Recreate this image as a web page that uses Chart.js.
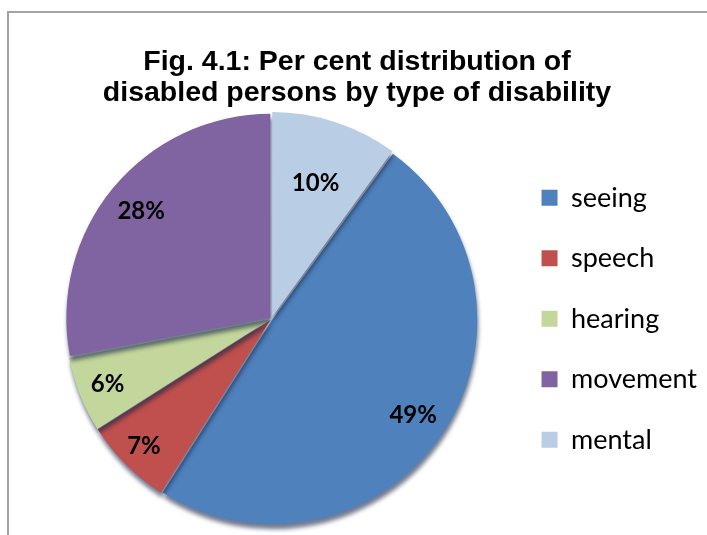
<!DOCTYPE html>
<html>
<head>
<meta charset="utf-8">
<script src="https://cdn.jsdelivr.net/npm/chart.js@4.4.1/dist/chart.umd.min.js"></script>
<style>
  html, body { margin: 0; padding: 0; background: #fff; overflow: hidden; }
  #frame { position: absolute; left: 7px; top: 11px; width: 800px; height: 600px;
           border: 2px solid #a3a3a3; }
  #wrap { position: absolute; left: 0; top: 0; width: 707px; height: 535px; }
</style>
</head>
<body>
<div id="frame"></div>
<div id="wrap"><canvas id="PieChart" width="707" height="535"></canvas></div>
<script>
// data
var types = ['seeing', 'speech', 'hearing', 'movement', 'mental'];
var shares = [49, 7, 6, 28, 10];
var colours = ['#4f81bd', '#c0504d', '#c3d69b', '#8064a2', '#b9cde5'];
var explode = [4, 5, 5, 6, 8];
var labelRadius = [0.82, 0.86, 0.84, 0.8, 0.66];

var ctx = document.getElementById('PieChart');

// pie sits a bit right of the plot area middle in the original
var nudgePlugin = {
    id: 'nudgePie',
    afterLayout: function (chart) {
        chart.chartArea.left += 28;
        chart.chartArea.width -= 28;
    }
};

// soft shadow under the slices
var shadowPlugin = {
    id: 'sliceShadow',
    beforeDatasetsDraw: function (chart) {
        var c = chart.ctx;
        c.save();
        c.shadowColor = 'rgba(20,35,70,0.6)';
        c.shadowBlur = 4;
        c.shadowOffsetX = 1;
        c.shadowOffsetY = 5;
    },
    afterDatasetsDraw: function (chart) {
        chart.ctx.restore();
    }
};

// percent labels inside each slice
var pctPlugin = {
    id: 'pctLabels',
    afterDatasetsDraw: function (chart) {
        var c = chart.ctx;
        var meta = chart.getDatasetMeta(0);
        c.save();
        c.font = 'bold 24px Lato';
        c.fillStyle = '#000';
        c.textAlign = 'center';
        c.textBaseline = 'middle';
        meta.data.forEach(function (arc, i) {
            var mid = (arc.startAngle + arc.endAngle) / 2;
            var d = arc.outerRadius * labelRadius[i] + explode[i];
            c.fillText(shares[i] + '%', arc.x + Math.cos(mid) * d, arc.y + Math.sin(mid) * d);
        });
        c.restore();
    }
};

var data = {
    labels: types,
    datasets: [{
        data: shares,
        backgroundColor: colours,
        borderWidth: 0,
        offset: explode
    }]
};

var options = {
    responsive: false,
    animation: false,
    events: [],
    rotation: 36,
    radius: 204,
    layout: { padding: { left: 7, right: 0, top: 0, bottom: 8 } },
    plugins: {
        title: {
            display: true,
            text: ['Fig. 4.1: Per cent distribution of', 'disabled persons by type of disability'],
            color: '#000',
            font: { family: 'Liberation Sans', size: 28.5, weight: 'bold', lineHeight: 1.1 },
            padding: { top: 46, bottom: 2 }
        },
        legend: {
            display: true,
            position: 'right',
            fullSize: false,
            labels: {
                color: '#000',
                boxWidth: 16,
                boxHeight: 16,
                padding: 33.5,
                font: { family: 'Lato', size: 27 }
            }
        },
        tooltip: { enabled: false }
    }
};

var chart = new Chart(ctx, {
    type: 'pie',
    data: data,
    options: options,
    plugins: [nudgePlugin, shadowPlugin, pctPlugin]
});
</script>
</body>
</html>
